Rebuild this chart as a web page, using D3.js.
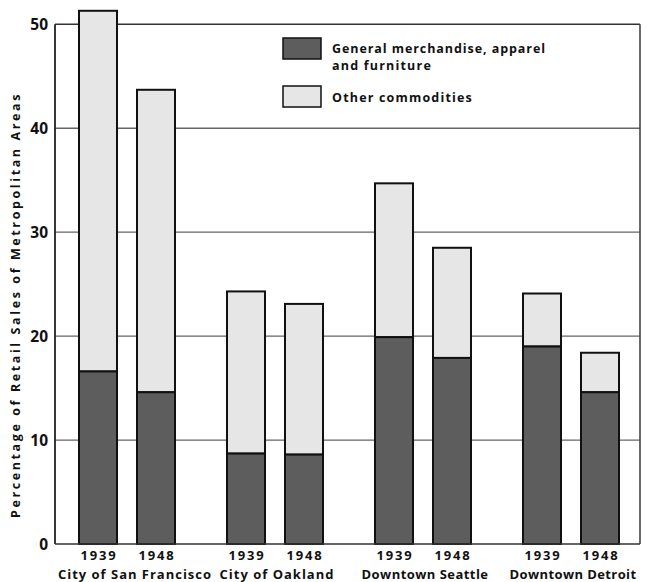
<!DOCTYPE html>
<html><head><meta charset="utf-8">
<script src="https://cdn.jsdelivr.net/npm/d3@7/dist/d3.min.js"></script>
<style>
body{margin:0;background:#fff;}
text{font-family:"Open Sans","DejaVu Sans",sans-serif;font-weight:bold;fill:#111;}
</style></head>
<body><svg id="c" width="647" height="582"></svg>
<script>
const groups = ["City of San Francisco","City of Oakland","Downtown Seattle","Downtown Detroit"];
const years = ["1939","1948"];
const generalMerch = [[16.6,14.6],[8.7,8.6],[19.9,17.9],[19.0,14.6]];
const totals = [[51.3,43.7],[24.3,23.1],[34.7,28.5],[24.1,18.4]];
const yTicks = [0,10,20,30,40,50];
const seriesNames = ["General merchandise, apparel\nand furniture","Other commodities"];

const svg = d3.select("#c");
const y = d3.scaleLinear().domain([0,50]).range([544,24.3]);
const xg = d3.scaleBand().domain(groups).range([53,645]);
const xi = d3.scalePoint().domain(years).range([45,103]);
const bw = 38;
const left = 55, right = 640;
const darkC = "#5d5d5d", lightC = "#e6e6e6";

function fit(sel, w){
  sel.each(function(){
    const t=this, n=t.textContent.length;
    const cur=t.getComputedTextLength();
    d3.select(t).style("letter-spacing",((w-cur)/n)+"px");
  });
}

// gridlines
svg.append("g").selectAll("line").data(yTicks.filter(d=>d>0)).join("line")
  .attr("x1",left).attr("x2",right).attr("y1",d=>y(d)).attr("y2",d=>y(d))
  .attr("stroke",d=>d===50?"#333":"#666").attr("stroke-width",d=>d===50?1.6:1.3);

// legend
const lg = svg.append("g");
lg.append("rect").attr("x",283).attr("y",38).attr("width",38).attr("height",21).attr("fill",darkC).attr("stroke","#111").attr("stroke-width",1.5);
lg.append("rect").attr("x",283).attr("y",86).attr("width",38).attr("height",21).attr("fill",lightC).attr("stroke","#111").attr("stroke-width",1.5);
const l1 = seriesNames[0].split("\n");
lg.append("text").attr("x",332).attr("y",53).attr("font-size",12.5).text(l1[0]).call(fit,214);
lg.append("text").attr("x",332).attr("y",70).attr("font-size",12.5).text(l1[1]).call(fit,100);
lg.append("text").attr("x",332).attr("y",102).attr("font-size",12.5).text(seriesNames[1]).call(fit,141);

// bars
const data = [];
groups.forEach((g,gi)=>years.forEach((yr,yi)=>data.push({g,yr,dark:generalMerch[gi][yi],total:totals[gi][yi]})));
const bars = svg.append("g").selectAll("g").data(data).join("g");
bars.append("rect").attr("x",d=>xg(d.g)+xi(d.yr)-bw/2).attr("width",bw)
  .attr("y",d=>y(d.total)).attr("height",d=>y(d.dark)-y(d.total))
  .attr("fill",lightC).attr("stroke","#111").attr("stroke-width",2);
bars.append("rect").attr("x",d=>xg(d.g)+xi(d.yr)-bw/2).attr("width",bw)
  .attr("y",d=>y(d.dark)).attr("height",d=>y(0)-y(d.dark))
  .attr("fill",darkC).attr("stroke","#111").attr("stroke-width",2);

// frame
svg.append("line").attr("x1",left).attr("x2",left).attr("y1",y(50)).attr("y2",y(0)).attr("stroke","#222").attr("stroke-width",1.8);
svg.append("line").attr("x1",right).attr("x2",right).attr("y1",y(50)).attr("y2",y(0)).attr("stroke","#444").attr("stroke-width",1.6);
svg.append("line").attr("x1",left).attr("x2",right).attr("y1",y(0)).attr("y2",y(0)).attr("stroke","#333").attr("stroke-width",1.6);

// y tick labels
svg.append("g").selectAll("text").data(yTicks).join("text")
  .attr("x",48).attr("y",d=>y(d)+5.5).attr("text-anchor","end").attr("font-size",15.5).text(d=>d);

// x labels
svg.append("g").selectAll("text").data(data).join("text")
  .attr("x",d=>xg(d.g)+xi(d.yr)+1).attr("y",560).attr("text-anchor","middle")
  .attr("font-size",13).text(d=>d.yr).call(fit,37);
svg.append("g").selectAll("text").data(groups).join("text")
  .attr("x",(d,i)=>xg(d)+xg.bandwidth()/2+(i===0?8:2)).attr("y",579).attr("text-anchor","middle")
  .attr("font-size",13).text(d=>d).each(function(d,i){fit(d3.select(this),[154,115,127,127][i]);});

// y title
svg.append("text").attr("transform","translate(20,305) rotate(-90)").attr("text-anchor","middle")
  .attr("font-size",12.5).text("Percentage of Retail Sales of Metropolitan Areas").call(fit,426);
</script></body></html>
